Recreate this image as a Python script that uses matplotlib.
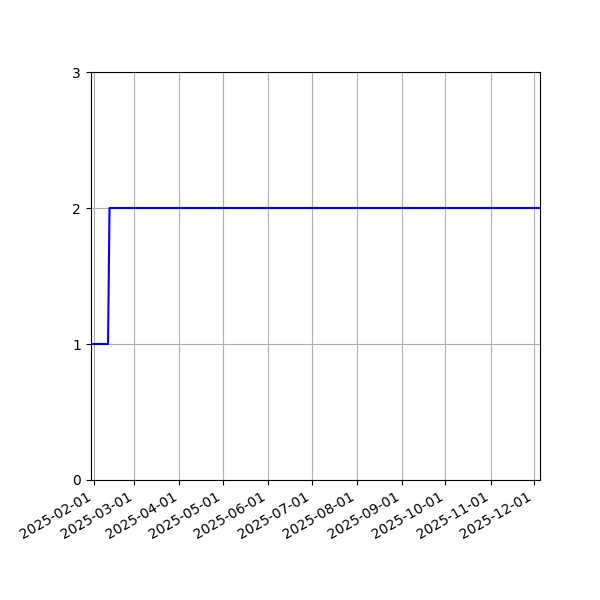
import numpy as np
import pandas as pd
import matplotlib
matplotlib.use("Agg")
import matplotlib.pyplot as plt
import matplotlib.dates as mdates

dates = pd.to_datetime(["2025-01-30", "2025-02-11", "2025-02-12", "2025-12-05"])
values = [1, 1, 2, 2]

fig, ax = plt.subplots(figsize=(6, 6), dpi=100)
ax.plot(dates, values, color="blue")

ax.set_xlim(dates[0], dates[-1])
ax.set_ylim(0, 3)
ax.set_yticks([0, 1, 2, 3])
ax.xaxis.set_major_locator(mdates.MonthLocator())
ax.xaxis.set_major_formatter(mdates.DateFormatter("%Y-%m-%d"))
ax.grid(True)

fig.autofmt_xdate()
fig.subplots_adjust(left=0.151, right=0.9, top=0.88, bottom=0.2)
fig.savefig("out.png")
